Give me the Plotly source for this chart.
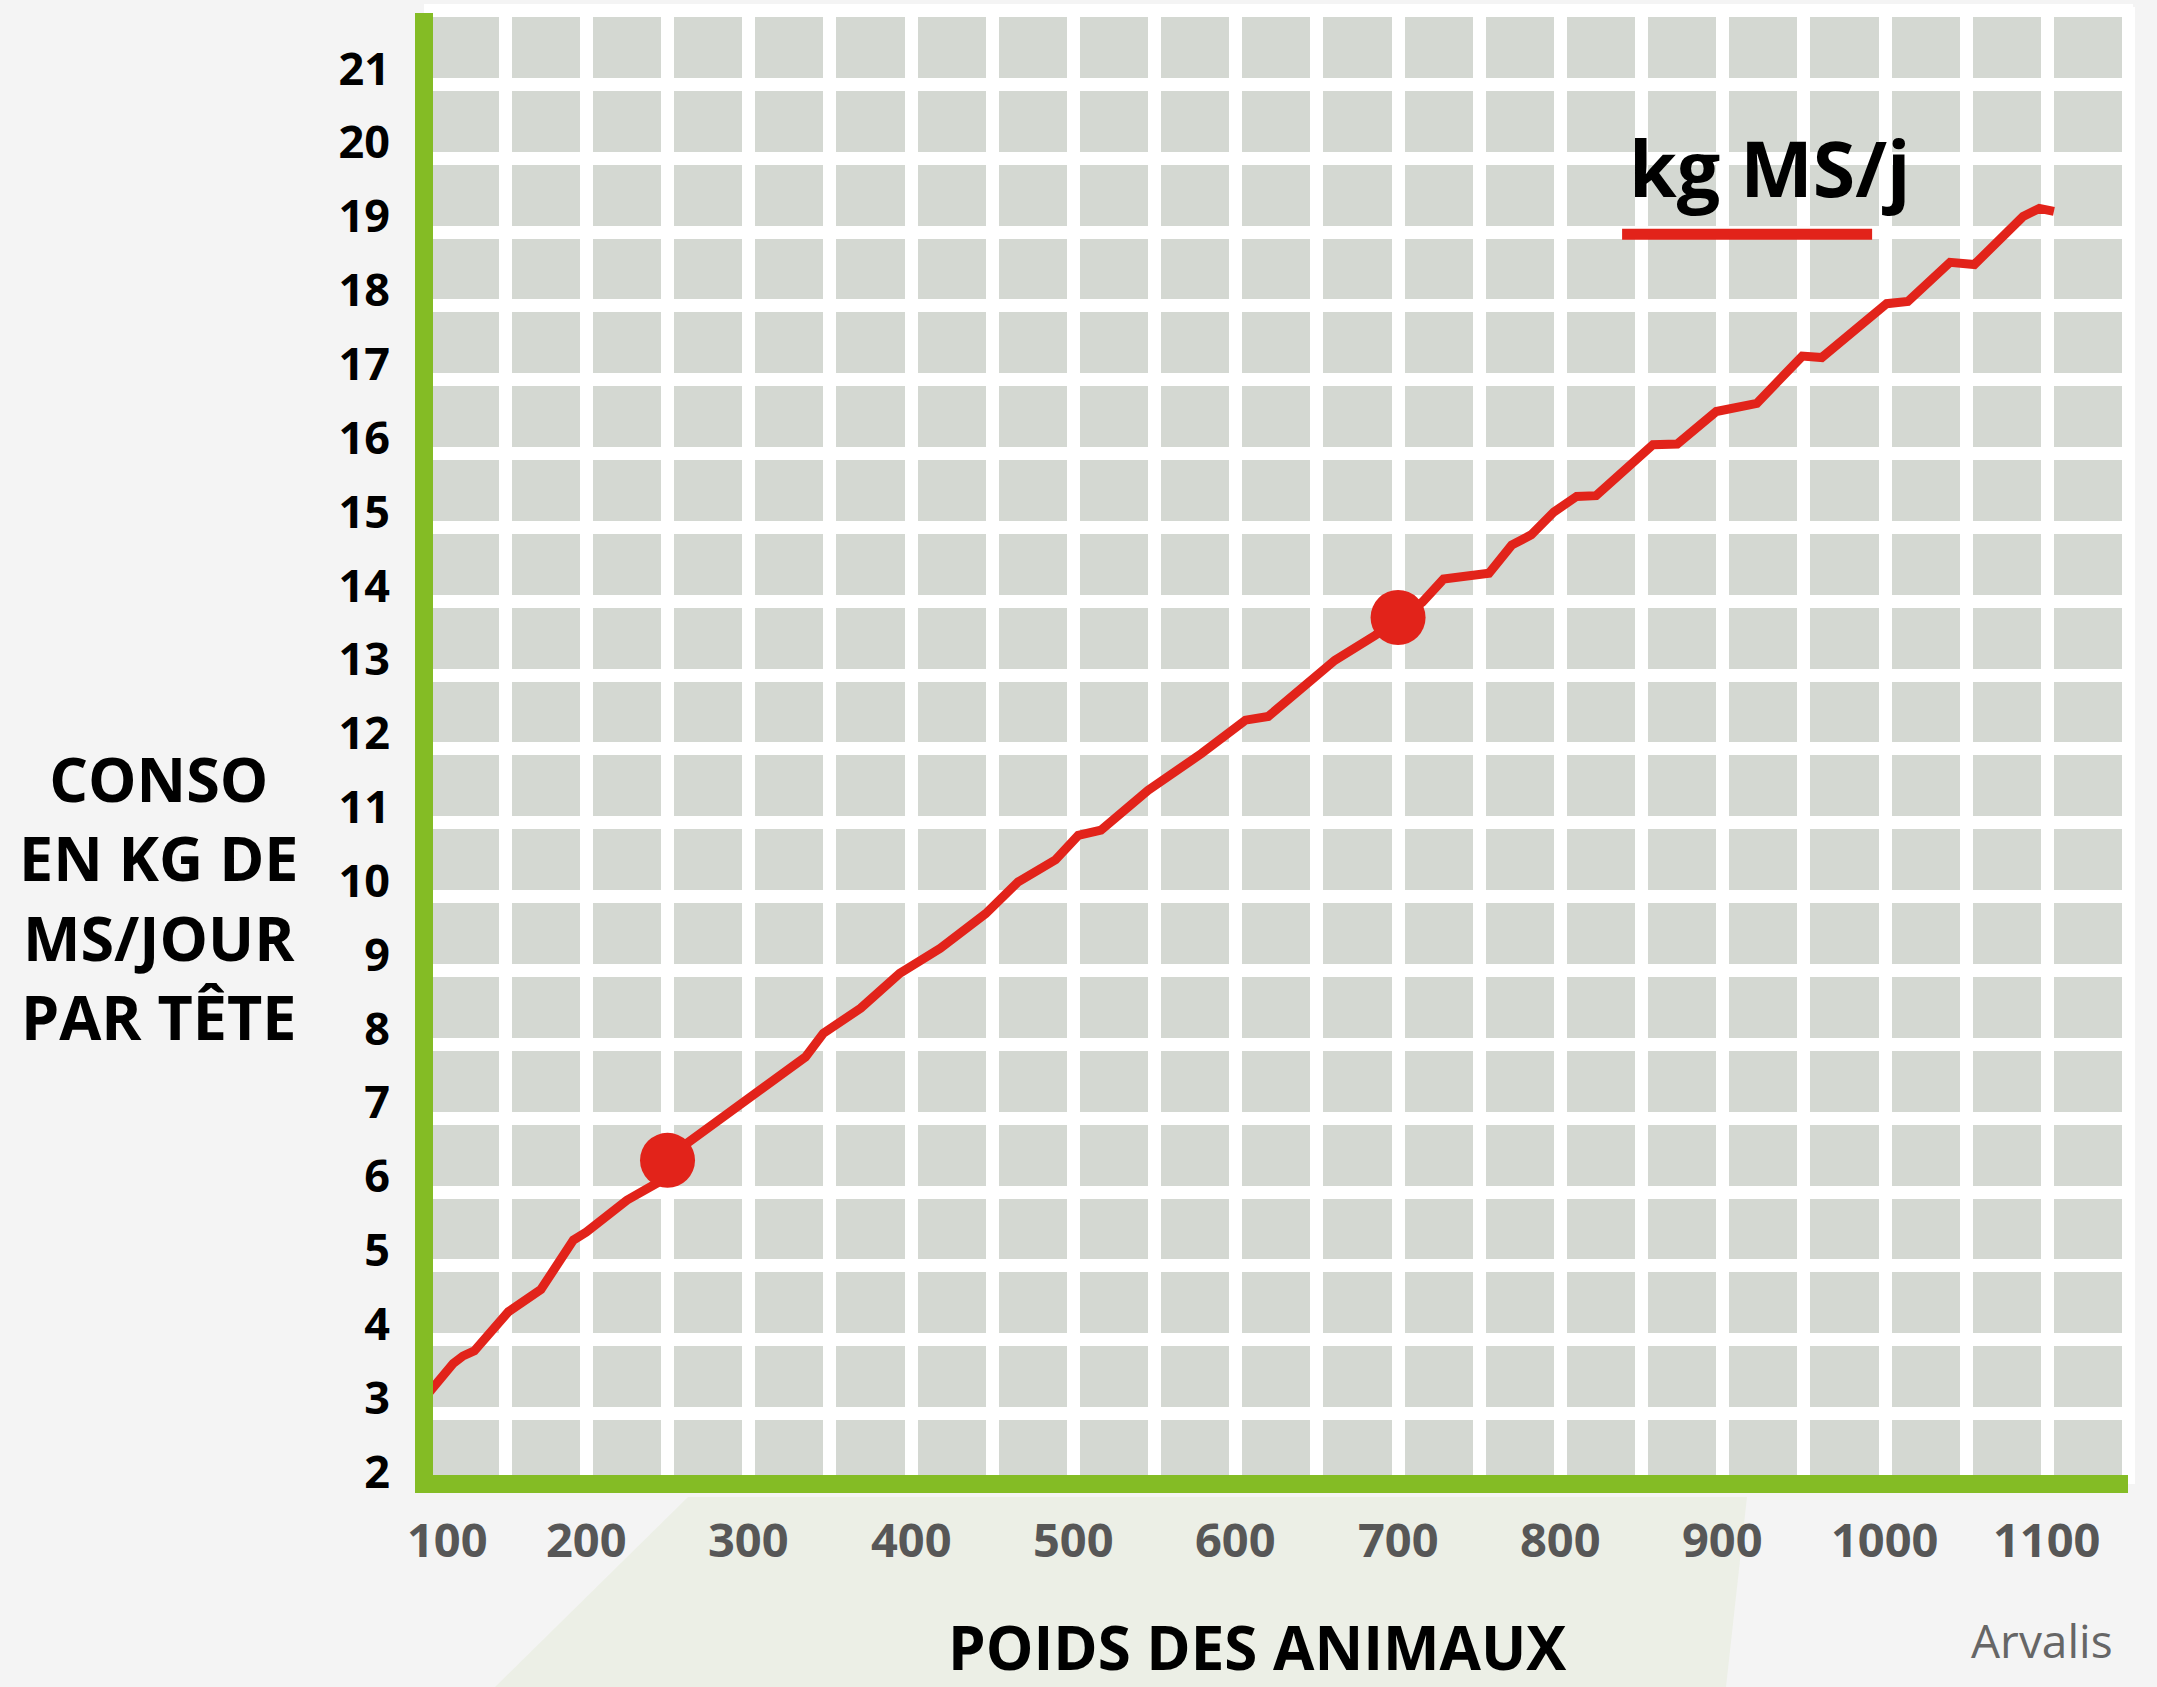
import plotly.graph_objects as go

# ---------------- data ----------------
weight_kg = [101, 118, 124, 131, 152, 172, 192, 200, 225, 245, 262, 301, 335, 346, 369,
             393, 404, 418, 446, 466, 489, 503, 517, 546, 579, 606, 620, 641, 661, 686,
             715, 728, 756, 770, 782, 796, 810, 822, 857, 872, 896, 921, 949, 961, 987,
             1001, 1014, 1040, 1055, 1085, 1095, 1104]
conso_kg_ms = [3.02, 3.47, 3.57, 3.64, 4.17, 4.47, 5.14, 5.25, 5.68, 5.93, 6.45, 7.08, 7.62, 7.94, 8.28,
               8.75, 8.91, 9.09, 9.56, 9.99, 10.29, 10.62, 10.69, 11.23, 11.73, 12.18, 12.23, 12.63, 12.99, 13.33,
               13.78, 14.09, 14.17, 14.55, 14.69, 15.00, 15.21, 15.22, 15.91, 15.92, 16.36, 16.47, 17.11, 17.09, 17.58,
               17.82, 17.85, 18.38, 18.35, 19.00, 19.11, 19.07]
point_weight = [250, 700]
point_conso = [6.22, 13.57]

x_tick_values = [100, 200, 300, 400, 500, 600, 700, 800, 900, 1000, 1100]
x_tick_labels = ["100", "200", "300", "400", "500", "600", "700", "800", "900", "1000", "1100"]
y_tick_values = list(range(2, 22))
y_tick_labels = [str(v) for v in y_tick_values]

y_title_lines = ["CONSO", "EN KG DE", "MS/JOUR", "PAR TÊTE"]
x_title = "POIDS DES ANIMAUX"
series_name = "kg MS/j"
source_text = "Arvalis"

# ---------------- style ----------------
W, H = 2157, 1687
ML, MR, MT, MB = 424, 24, 7, 203
PW, PH = W - ML - MR, H - MT - MB
RED = "#e2231a"
GREEN = "#84bc25"
CELL = "#d4d8d2"
BG = "#f4f4f4"
FONT = "Open Sans"

X_RANGE = [100, 1152.7]
Y_RANGE = [1.837, 21.837]
grid_y = [k + 0.79 for k in range(1, 22)]


def px_x(p):
    return (p - ML) / PW


def px_y(p):
    return (H - MB - p) / PH


fig = go.Figure()
fig.add_trace(go.Scatter(x=weight_kg, y=conso_kg_ms, mode="lines", name=series_name,
                         line=dict(color=RED, width=9), showlegend=False, hoverinfo="x+y"))
fig.add_trace(go.Scatter(x=point_weight, y=point_conso, mode="markers", showlegend=False,
                         marker=dict(color=RED, size=55, line=dict(width=0)), cliponaxis=False))

annotations = []
for i, (v, t) in enumerate(zip(x_tick_values, x_tick_labels)):
    annotations.append(dict(x=v, xref="x", y=0, yref="paper", yshift=-55, yanchor="middle",
                            xanchor="center", xshift=23 if i == 0 else 0, text=t, showarrow=False,
                            font=dict(family=FONT, size=47, color="#575757", weight=700)))
annotations.append(dict(x=0, xref="paper", xshift=-266, y=px_y(898), yref="paper",
                        text="<br>".join(y_title_lines), showarrow=False, align="center",
                        xanchor="center", yanchor="middle",
                        font=dict(family=FONT, size=61, color="#000000", weight=700)))
annotations.append(dict(x=px_x(1257), xref="paper", y=px_y(1647), yref="paper",
                        text=x_title, showarrow=False, xanchor="center", yanchor="middle",
                        font=dict(family=FONT, size=60, color="#000000", weight=700)))
annotations.append(dict(x=px_x(2042), xref="paper", y=px_y(1640), yref="paper",
                        text=source_text, showarrow=False, xanchor="center", yanchor="middle",
                        font=dict(family=FONT, size=46, color="#666666")))
annotations.append(dict(x=841, xref="x", y=19.66, yref="y", text=series_name, showarrow=False,
                        xanchor="left", yanchor="middle",
                        font=dict(family=FONT, size=77, color="#000000", weight=700)))

shapes = [
    # faint green wedge in the background
    dict(type="path", xref="paper", yref="paper", layer="below", line=dict(width=0),
         fillcolor="#ecefe6",
         path=f"M {px_x(688)} {px_y(1497)} L {px_x(1747)} {px_y(1497)} L {px_x(1726)} {px_y(1687)} L {px_x(495)} {px_y(1687)} Z"),
    # green axes
    dict(type="line", xref="paper", yref="paper", x0=0, x1=0, y0=0, y1=px_y(13),
         line=dict(color=GREEN, width=18)),
    dict(type="line", xref="paper", yref="paper", x0=px_x(415), x1=px_x(2128), y0=0, y1=0,
         line=dict(color=GREEN, width=18)),
    # legend sample line
    dict(type="line", xref="x", yref="y", x0=838, x1=992, y0=18.76, y1=18.76,
         line=dict(color=RED, width=11)),
]

fig.update_layout(
    width=W, height=H,
    margin=dict(l=ML, r=MR, t=MT, b=MB, pad=0),
    paper_bgcolor=BG, plot_bgcolor=CELL,
    showlegend=False,
    xaxis=dict(range=X_RANGE, showticklabels=False, tickmode="linear", tick0=100, dtick=50,
               showgrid=True, gridcolor="white", gridwidth=13, zeroline=False, showline=False,
               ticks="", fixedrange=True),
    yaxis=dict(range=Y_RANGE, tickmode="array", tickvals=y_tick_values, ticktext=y_tick_labels,
               showgrid=False, zeroline=False, showline=False, ticks="outside", ticklen=24,
               tickcolor="rgba(0,0,0,0)",
               tickfont=dict(family=FONT, size=45, color="#000000", weight=700),
               minor=dict(tickmode="array", tickvals=grid_y, showgrid=True, gridcolor="white",
                          gridwidth=13, ticks=""),
               fixedrange=True),
    annotations=annotations,
    shapes=shapes,
)

fig.write_html("out.html", config={"displayModeBar": False},
               post_script="document.body.style.margin='0px';document.body.style.background='#f4f4f4';")
